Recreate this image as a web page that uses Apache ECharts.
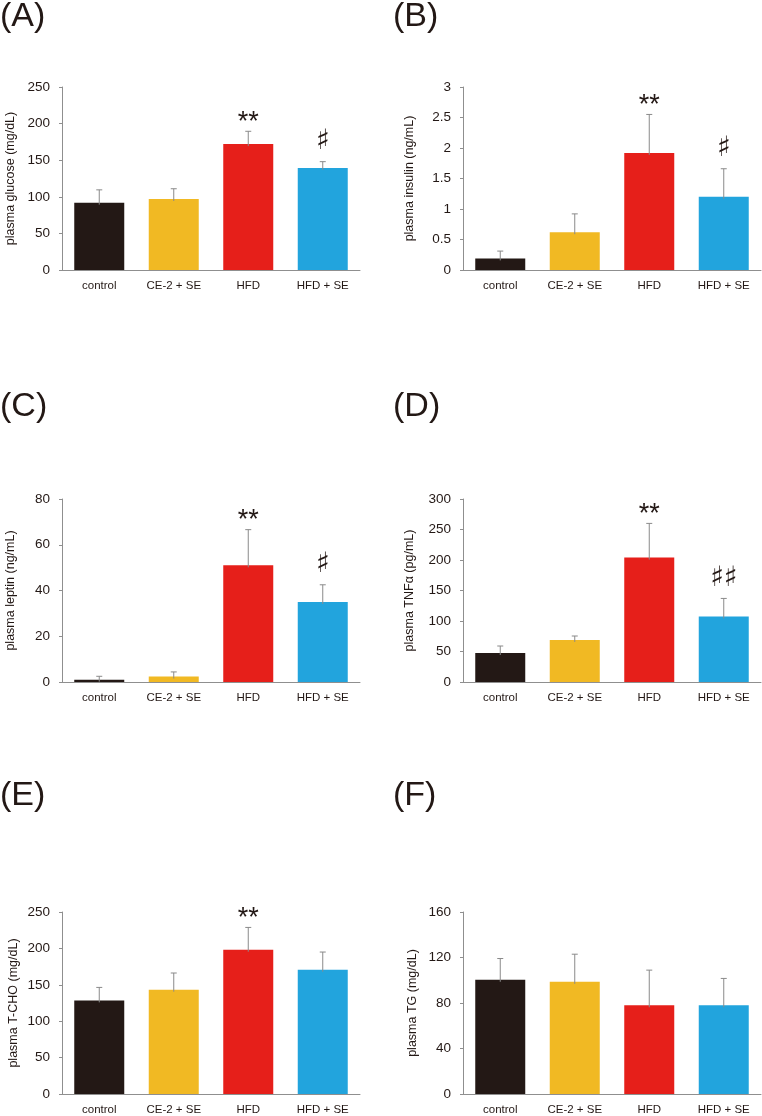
<!DOCTYPE html>
<html>
<head>
<meta charset="utf-8">
<script src="https://cdn.jsdelivr.net/npm/echarts@6/dist/echarts.min.js"></script>
<style>html,body{margin:0;padding:0;background:#fff}#c{width:762px;height:1116px}</style>
</head>
<body>
<div id="c"></div>
<script>
var categories = ['control', 'CE-2 + SE', 'HFD', 'HFD + SE'];
var barColors = ['#231815', '#F1B923', '#E61F1A', '#22A4DD'];

var panelLetters = ['(A)', '(B)', '(C)', '(D)', '(E)', '(F)'];
var axisNames = ['plasma glucose (mg/dL)', 'plasma insulin (ng/mL)', 'plasma leptin (ng/mL)',
                 'plasma TNF\u03b1 (pg/mL)', 'plasma T-CHO (mg/dL)', 'plasma TG (mg/dL)'];
var axisMax = [250, 3, 80, 300, 250, 160];
var axisInterval = [50, 0.5, 20, 50, 50, 40];

var glucoseMean = [92, 97, 172, 139.5];
var glucoseSD = [17.5, 14, 17.5, 8.5];
var insulinMean = [0.19, 0.62, 1.92, 1.2];
var insulinSD = [0.12, 0.30, 0.63, 0.46];
var leptinMean = [1.0, 2.4, 51, 35];
var leptinSD = [1.5, 2.0, 15.6, 7.5];
var tnfMean = [47.5, 69, 204, 107.5];
var tnfSD = [11.5, 6.4, 56, 29.5];
var tchoMean = [128.6, 143.3, 198.2, 170.7];
var tchoSD = [17.8, 22.9, 30.6, 24.3];
var tgMean = [100.4, 98.6, 78, 78];
var tgSD = [18.7, 24.3, 30.9, 23.6];

var sigGlucose = ['', '', '**', '\u266F'];
var sigInsulin = ['', '', '**', '\u266F'];
var sigLeptin = ['', '', '**', '\u266F'];
var sigTnf = ['', '', '**', '\u266F\u266F'];
var sigTcho = ['', '', '**', ''];
var sigTg = ['', '', '', ''];

var means = [glucoseMean, insulinMean, leptinMean, tnfMean, tchoMean, tgMean];
var sds = [glucoseSD, insulinSD, leptinSD, tnfSD, tchoSD, tgSD];
var sigs = [sigGlucose, sigInsulin, sigLeptin, sigTnf, sigTcho, sigTg];

var grids = [
  {left: 62, top: 87, width: 298, height: 183},
  {left: 463, top: 87, width: 298, height: 183},
  {left: 62, top: 499, width: 298, height: 183},
  {left: 463, top: 499, width: 298, height: 183},
  {left: 62, top: 912, width: 298, height: 182},
  {left: 463, top: 912, width: 298, height: 182}
];
var letterPos = [[0, 0], [393, 0], [0, 390], [393, 390], [0, 779], [393, 779]];
var nameGaps = [45, 47, 45, 47, 42, 44];

var textColor = '#231815';
var axisGray = '#8f8f8f';
var font = 'Liberation Sans, Arial, DejaVu Sans, sans-serif';

var option = {
  animation: false,
  backgroundColor: '#fff',
  title: [],
  grid: [],
  xAxis: [],
  yAxis: [],
  series: []
};

for (var i = 0; i < 6; i++) {
  option.title.push({
    text: panelLetters[i], left: letterPos[i][0], top: letterPos[i][1], padding: 0,
    textStyle: {fontSize: 34, fontWeight: 'normal', color: textColor, fontFamily: font}
  });
  option.grid.push(grids[i]);
  option.xAxis.push({
    type: 'category', gridIndex: i, data: categories,
    axisLine: {lineStyle: {color: axisGray, width: 1}},
    axisTick: {show: false},
    axisLabel: {color: textColor, fontSize: 11.5, fontFamily: font, margin: 10, interval: 0}
  });
  option.yAxis.push({
    type: 'value', gridIndex: i, min: 0, max: axisMax[i], interval: axisInterval[i],
    name: axisNames[i], nameLocation: 'middle', nameGap: nameGaps[i],
    nameTextStyle: {color: textColor, fontSize: 12.5, fontFamily: font},
    axisLine: {show: true, lineStyle: {color: axisGray, width: 1}},
    axisTick: {show: true, length: 3, lineStyle: {color: axisGray}},
    splitLine: {show: false},
    axisLabel: {color: textColor, fontSize: 13.5, fontFamily: font, margin: 12}
  });
  option.series.push({
    type: 'bar', xAxisIndex: i, yAxisIndex: i, barWidth: 50,
    data: means[i].map(function (v, k) { return {value: v, itemStyle: {color: barColors[k]}}; })
  });
  (function (idx) {
    option.series.push({
      type: 'custom', xAxisIndex: idx, yAxisIndex: idx, z: 5,
      data: means[idx].map(function (v, k) { return [k, v, v + sds[idx][k]]; }),
      renderItem: function (params, api) {
        var k = api.value(0);
        var p0 = api.coord([k, api.value(1)]);
        var p1 = api.coord([k, api.value(2)]);
        var s = sigs[idx][k];
        var children = [
          {type: 'line', shape: {x1: p0[0], y1: p0[1] + 2, x2: p1[0], y2: p1[1]},
           style: {stroke: '#8a8a8a', lineWidth: 1}},
          {type: 'line', shape: {x1: p1[0] - 3, y1: p1[1], x2: p1[0] + 3, y2: p1[1]},
           style: {stroke: '#8a8a8a', lineWidth: 1}}
        ];
        if (s) {
          var isStar = s.indexOf('*') >= 0;
          children.push({
            type: 'text', x: p1[0], y: p1[1] - (isStar ? 9 : 20),
            style: {text: s, fill: '#231815', align: 'center', verticalAlign: 'middle',
                    fontSize: isStar ? 27 : 28,
                    fontFamily: isStar ? font : 'DejaVu Sans, sans-serif'}
          });
        }
        return {type: 'group', children: children};
      }
    });
  })(i);
}

var chart = echarts.init(document.getElementById('c'), null, {renderer: 'canvas'});
chart.setOption(option);
</script>
</body>
</html>
